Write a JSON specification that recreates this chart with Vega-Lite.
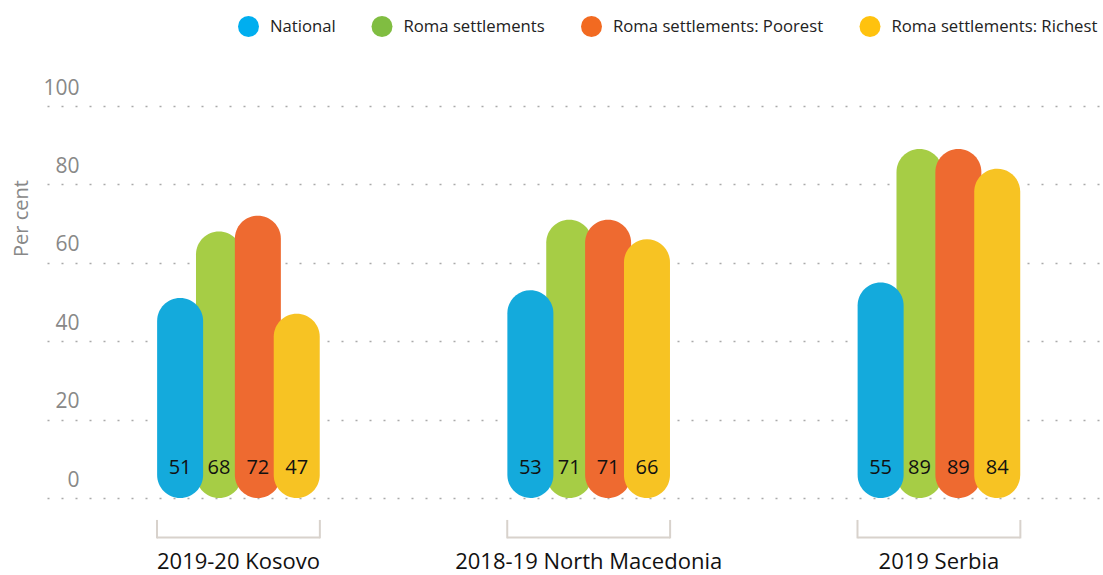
{
  "$schema": "https://vega.github.io/schema/vega-lite/v6.json",
  "autosize": "none",
  "width": 1056,
  "height": 392,
  "padding": {"left": 47, "top": 106, "right": 0, "bottom": 77},
  "background": "white",
  "config": {
    "font": "Open Sans",
    "view": {"stroke": null}
  },
  "datasets": {
    "bars": [
      {"group": "2019-20 Kosovo", "series": "Roma settlements", "value": 68},
      {"group": "2019-20 Kosovo", "series": "National", "value": 51},
      {"group": "2019-20 Kosovo", "series": "Roma settlements: Poorest", "value": 72},
      {"group": "2019-20 Kosovo", "series": "Roma settlements: Richest", "value": 47},
      {"group": "2018-19 North Macedonia", "series": "Roma settlements", "value": 71},
      {"group": "2018-19 North Macedonia", "series": "National", "value": 53},
      {"group": "2018-19 North Macedonia", "series": "Roma settlements: Poorest", "value": 71},
      {"group": "2018-19 North Macedonia", "series": "Roma settlements: Richest", "value": 66},
      {"group": "2019 Serbia", "series": "Roma settlements", "value": 89},
      {"group": "2019 Serbia", "series": "National", "value": 55},
      {"group": "2019 Serbia", "series": "Roma settlements: Poorest", "value": 89},
      {"group": "2019 Serbia", "series": "Roma settlements: Richest", "value": 84}
    ],
    "groups": [
      {"group": "2019-20 Kosovo"},
      {"group": "2018-19 North Macedonia"},
      {"group": "2019 Serbia"}
    ]
  },
  "resolve": {"scale": {"color": "independent"}},
  "layer": [
    {
      "data": {"name": "bars"},
      "mark": {"type": "point", "opacity": 0, "filled": true},
      "encoding": {
        "x": {"field": "group", "type": "nominal", "sort": ["2019-20 Kosovo", "2018-19 North Macedonia", "2019 Serbia"],
          "scale": {"paddingInner": 0.535, "paddingOuter": 0.275, "align": 0.571},
          "axis": {"title": null, "domain": false, "ticks": false, "grid": false, "labelAngle": 0, "labelFontSize": 22, "labelColor": "#111111", "labelPadding": 53, "labelFont": "Open Sans", "labelLimit": 400}},
        "y": {"datum": 0, "type": "quantitative"},
        "color": {
          "field": "series", "type": "nominal",
          "scale": {"domain": ["National", "Roma settlements", "Roma settlements: Poorest", "Roma settlements: Richest"],
                    "range": ["#00AEEF", "#80BD41", "#F26A21", "#FFC20E"]},
          "legend": {
            "title": null, "orient": "none", "direction": "horizontal",
            "legendX": 191, "legendY": -90,
            "symbolType": "circle", "symbolSize": 440, "symbolOpacity": 1, "symbolStrokeWidth": 0,
            "labelFontSize": 16.7, "labelColor": "#222222", "labelFont": "Open Sans", "labelLimit": 0,
            "labelOffset": 11, "columnPadding": 35.5
          }
        }
      }
    },
    {
      "data": {"name": "bars"},
      "mark": {"type": "bar", "width": 46, "cornerRadius": 23},
      "encoding": {
        "x": {"field": "group", "type": "nominal", "sort": ["2019-20 Kosovo", "2018-19 North Macedonia", "2019 Serbia"]},
        "xOffset": {"field": "series", "type": "nominal", "sort": ["National", "Roma settlements", "Roma settlements: Poorest", "Roma settlements: Richest"],
          "scale": {"paddingInner": 0, "paddingOuter": 0.095}},
        "y": {"field": "value", "type": "quantitative", "stack": null,
          "scale": {"domain": [0, 100], "nice": false},
          "axis": {"title": "Per cent", "values": [0, 20, 40, 60, 80, 100], "domain": false, "ticks": false,
            "grid": true, "gridDash": [2, 12], "gridColor": "#AAAAAA", "gridWidth": 1.5,
            "labelFontSize": 21, "labelColor": "#888888", "labelPadding": -32, "labelOffset": -18, "labelFont": "Open Sans",
            "titleFontSize": 20, "titleColor": "#888888", "titleFontWeight": "normal", "titleFont": "Open Sans",
            "titleX": -26, "titleY": 112, "titleBaseline": "middle", "titleAlign": "center", "titleAngle": -90}},
        "color": {
          "field": "series", "type": "nominal",
          "scale": {"domain": ["National", "Roma settlements", "Roma settlements: Poorest", "Roma settlements: Richest"],
                    "range": ["#14AADC", "#A6CD45", "#EE6A30", "#F7C323"]},
          "legend": null
        }
      }
    },
    {
      "data": {"name": "bars"},
      "mark": {"type": "text", "fontSize": 20, "color": "#111111", "baseline": "middle", "font": "Open Sans"},
      "encoding": {
        "x": {"field": "group", "type": "nominal", "sort": ["2019-20 Kosovo", "2018-19 North Macedonia", "2019 Serbia"]},
        "xOffset": {"field": "series", "type": "nominal", "sort": ["National", "Roma settlements", "Roma settlements: Poorest", "Roma settlements: Richest"]},
        "y": {"datum": 7.6, "type": "quantitative"},
        "text": {"field": "value", "type": "quantitative"}
      }
    },
    {
      "data": {"name": "groups"},
      "mark": {"type": "bar", "color": "#D8D2CC"},
      "encoding": {
        "x": {"field": "group", "type": "nominal", "sort": ["2019-20 Kosovo", "2018-19 North Macedonia", "2019 Serbia"]},
        "y": {"datum": -9.8, "type": "quantitative"},
        "y2": {"datum": -10.3}
      }
    },
    {
      "data": {"name": "groups"},
      "mark": {"type": "rule", "color": "#D8D2CC", "strokeWidth": 2},
      "encoding": {
        "x": {"field": "group", "type": "nominal", "sort": ["2019-20 Kosovo", "2018-19 North Macedonia", "2019 Serbia"], "bandPosition": 0},
        "y": {"datum": -10.3, "type": "quantitative"},
        "y2": {"datum": -5.6}
      }
    },
    {
      "data": {"name": "groups"},
      "mark": {"type": "rule", "color": "#D8D2CC", "strokeWidth": 2},
      "encoding": {
        "x": {"field": "group", "type": "nominal", "sort": ["2019-20 Kosovo", "2018-19 North Macedonia", "2019 Serbia"], "bandPosition": 1},
        "y": {"datum": -10.3, "type": "quantitative"},
        "y2": {"datum": -5.6}
      }
    }
  ]
}
